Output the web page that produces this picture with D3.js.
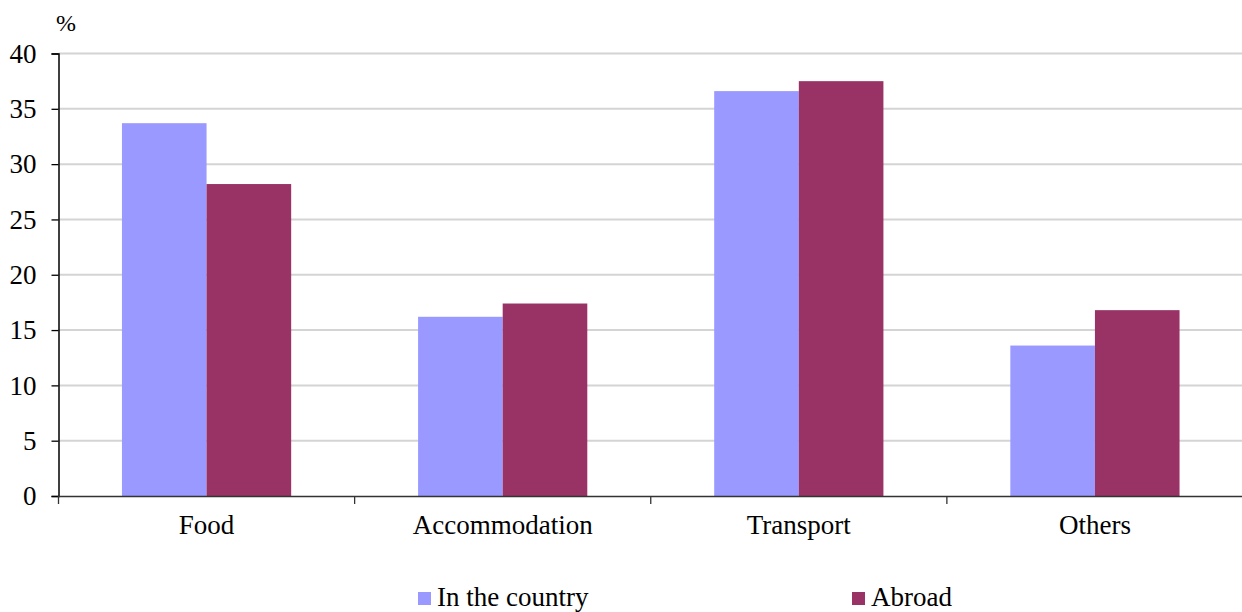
<!DOCTYPE html>
<html>
<head>
<meta charset="utf-8">
<script src="https://cdn.jsdelivr.net/npm/d3@7"></script>
<style>
  html, body { margin: 0; padding: 0; background: #fff; overflow: hidden; }
  text { font-family: "Liberation Serif", "Times New Roman", serif; fill: #000; }
</style>
</head>
<body>
<svg id="chart"></svg>
<script>
const categories = ["Food", "Accommodation", "Transport", "Others"]
const series = ["In the country", "Abroad"]
const inCountry = [33.7, 16.2, 36.6, 13.6]
const abroad = [28.2, 17.4, 37.5, 16.8]
const yTicks = [0, 5, 10, 15, 20, 25, 30, 35, 40]
const colors = ["#9999ff", "#993366"]

const width = 1242
const height = 612
const margin = { top: 53.5, right: -1, bottom: 116, left: 58.5 }
const fontSize = "27px"

const $svg = d3.select("#chart").attr("width", width).attr("height", height)

const x0 = d3
  .scaleBand()
  .domain(categories)
  .range([margin.left, width - margin.right])
  .padding(0)
const gap = x0.bandwidth() * 0.75 / 3.5
const x1 = d3
  .scaleBand()
  .domain(series)
  .range([gap, x0.bandwidth() - gap])
const y = d3
  .scaleLinear()
  .domain([0, 40])
  .range([height - margin.bottom, margin.top])

// gridlines
$svg
  .append("g")
  .selectAll("line")
  .data(yTicks.slice(1))
  .enter()
  .append("line")
  .attr("x1", margin.left)
  .attr("x2", width)
  .attr("y1", d => y(d))
  .attr("y2", d => y(d))
  .attr("stroke", "#d4d4d4")
  .attr("stroke-width", 2)

const rows = categories.map((c, i) => ({
  cat: c,
  values: [inCountry[i], abroad[i]].map((v, j) => ({ key: series[j], value: v, color: colors[j] }))
}))

$svg
  .append("g")
  .selectAll("g")
  .data(rows)
  .enter()
  .append("g")
  .attr("transform", d => `translate(${x0(d.cat)},0)`)
  .selectAll("rect")
  .data(d => d.values)
  .enter()
  .append("rect")
  .attr("x", d => x1(d.key))
  .attr("width", x1.bandwidth())
  .attr("y", d => y(d.value))
  .attr("height", d => y(0) - y(d.value))
  .attr("fill", d => d.color)

// y axis
const $yAxis = $svg
  .append("g")
  .attr("transform", `translate(${margin.left},0)`)
  .call(d3.axisLeft(y).tickValues(yTicks).tickSize(7).tickPadding(15))
$yAxis.select(".domain").attr("stroke", "#000").attr("stroke-width", 1.5)
$yAxis.selectAll(".tick line").attr("stroke", "#000").attr("stroke-width", 1.3)
$yAxis.selectAll(".tick text").style("font-size", fontSize).attr("font-family", null)

// x axis
const $xAxis = $svg
  .append("g")
  .attr("transform", `translate(0,${y(0)})`)
  .call(d3.axisBottom(x0).tickSize(0).tickPadding(19))
$xAxis.select(".domain").attr("stroke", "#333").attr("stroke-width", 1.5)
$xAxis.selectAll(".tick text").style("font-size", fontSize).attr("font-family", null)
$xAxis
  .selectAll(".sep")
  .data(categories.map(c => x0(c)).concat([x0.range()[1]]))
  .enter()
  .append("line")
  .attr("x1", d => d)
  .attr("x2", d => d)
  .attr("y1", 0)
  .attr("y2", 8)
  .attr("stroke", "#333")
  .attr("stroke-width", 1.3)

$svg
  .append("text")
  .attr("x", 56)
  .attr("y", 31)
  .style("font-size", "24px")
  .text("%")

// legend
const legendX = [418, 852]
const $legend = $svg
  .append("g")
  .selectAll("g")
  .data(series)
  .enter()
  .append("g")
  .attr("transform", (d, i) => `translate(${legendX[i]},${height - 20})`)
$legend
  .append("rect")
  .attr("x", 0)
  .attr("y", 0)
  .attr("width", 13)
  .attr("height", 13)
  .attr("fill", (d, i) => colors[i])
$legend
  .append("text")
  .attr("x", 19)
  .attr("y", 14)
  .style("font-size", fontSize)
  .text(d => d)
</script>
</body>
</html>
